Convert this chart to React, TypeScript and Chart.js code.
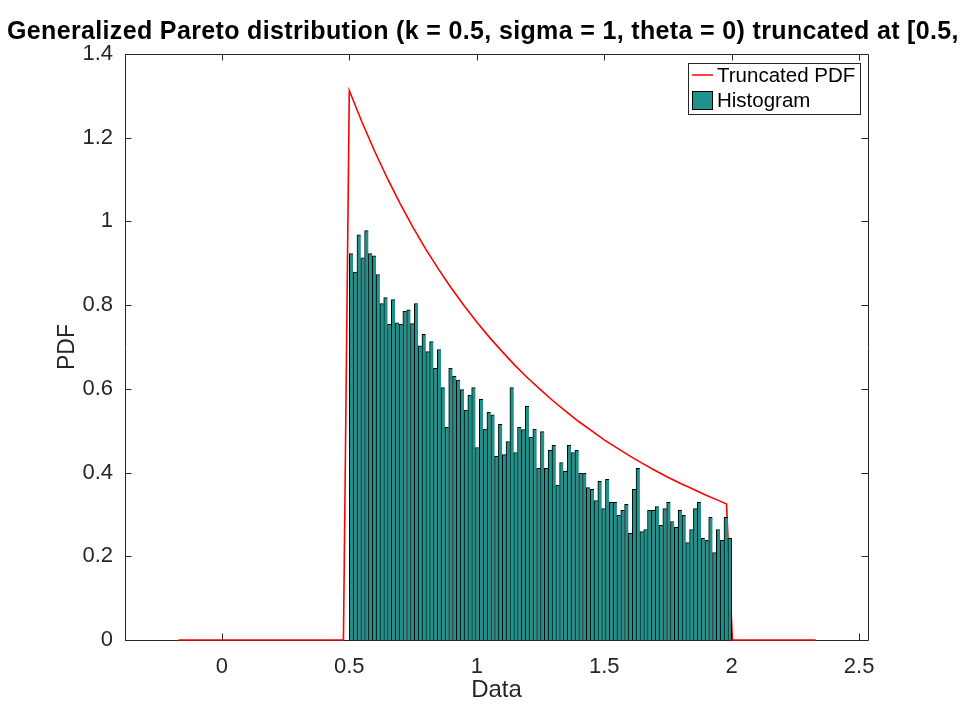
import React, { useEffect, useRef } from "react";
import { Chart, registerables } from "chart.js";

Chart.register(...registerables);

// ---- data ----
const chartTitle =
  "Generalized Pareto distribution (k = 0.5, sigma = 1, theta = 0) truncated at [0.5, 2]";
const xAxisLabel = "Data";
const yAxisLabel = "PDF";
const legendLabels = ["Truncated PDF", "Histogram"];

const xTicks = [0, 0.5, 1, 1.5, 2, 2.5];
const yTicks = [0, 0.2, 0.4, 0.6, 0.8, 1, 1.2, 1.4];

const binLow = 0.5;
const binHigh = 2.0;

// histogram density per bin (100 bins between 0.5 and 2)
const histDensity = [
  0.923, 0.879, 0.968, 0.913, 0.978, 0.923, 0.918, 0.873, 0.804, 0.818,
  0.754, 0.813, 0.758, 0.754, 0.785, 0.789, 0.756, 0.804, 0.703, 0.730,
  0.689, 0.713, 0.649, 0.694, 0.603, 0.508, 0.649, 0.630, 0.621, 0.598,
  0.549, 0.585, 0.603, 0.460, 0.575, 0.504, 0.544, 0.538, 0.439, 0.515,
  0.443, 0.474, 0.603, 0.448, 0.508, 0.503, 0.558, 0.484, 0.504, 0.410,
  0.498, 0.410, 0.453, 0.465, 0.370, 0.424, 0.403, 0.465, 0.448, 0.453,
  0.398, 0.398, 0.364, 0.360, 0.333, 0.379, 0.314, 0.384, 0.329, 0.329,
  0.298, 0.310, 0.324, 0.255, 0.360, 0.410, 0.259, 0.264, 0.310, 0.310,
  0.319, 0.274, 0.314, 0.329, 0.283, 0.269, 0.310, 0.298, 0.233, 0.264,
  0.314, 0.329, 0.243, 0.238, 0.293, 0.209, 0.264, 0.238, 0.293, 0.243,
];

// truncated PDF curve samples
const pdfX = [
  -0.17, 0.477, 0.5, 0.55, 0.6, 0.65, 0.7, 0.75, 0.8, 0.85, 0.9, 0.95, 1.0,
  1.05, 1.1, 1.15, 1.2, 1.25, 1.3, 1.35, 1.4, 1.45, 1.5, 1.55, 1.6, 1.65,
  1.7, 1.75, 1.8, 1.85, 1.9, 1.95, 1.98, 2.003, 2.33,
];
const pdfY = [
  0, 0, 1.313, 1.237, 1.167, 1.102, 1.042, 0.986, 0.934, 0.886, 0.841, 0.799,
  0.76, 0.723, 0.689, 0.656, 0.626, 0.598, 0.571, 0.546, 0.522, 0.5, 0.478,
  0.459, 0.44, 0.422, 0.405, 0.389, 0.374, 0.36, 0.346, 0.333, 0.325, 0, 0,
];

const xMin = -0.38;
const xMax = 2.535;
const yMin = 0;
const yMax = 1.4;

const barColor = "#21918c";
const lineColor = "#ff0000";
const axisColor = "#262626";
const fontFamily = "'Liberation Sans', Arial, Helvetica, sans-serif";

export default function App() {
  const canvasRef = useRef<HTMLCanvasElement | null>(null);

  useEffect(() => {
    document.body.style.margin = "0";
    const canvas = canvasRef.current;
    if (!canvas) return;

    const nBins = histDensity.length;
    const binWidth = (binHigh - binLow) / nBins;
    const barData = histDensity.map((v, i) => ({
      x: binLow + binWidth * (i + 0.5),
      y: v,
    }));
    const lineData = pdfX.map((x, i) => ({ x, y: pdfY[i] }));

    const framePlugin = {
      id: "frame",
      beforeDatasetsDraw(chart: any) {
        const { ctx, chartArea } = chart;
        const { left, right, top, bottom } = chartArea;
        const xs = chart.scales.x;
        const ys = chart.scales.y;
        const tl = 6.5;
        ctx.save();
        ctx.strokeStyle = axisColor;
        ctx.lineWidth = 1;
        ctx.beginPath();
        ctx.rect(Math.round(left) + 0.5, Math.round(top) + 0.5, Math.round(right - left), Math.round(bottom - top));
        ctx.stroke();
        ctx.beginPath();
        xTicks.forEach((v) => {
          const px = Math.round(xs.getPixelForValue(v)) + 0.5;
          ctx.moveTo(px, bottom);
          ctx.lineTo(px, bottom - tl);
          ctx.moveTo(px, top);
          ctx.lineTo(px, top + tl);
        });
        yTicks.forEach((v) => {
          const py = Math.round(ys.getPixelForValue(v)) + 0.5;
          ctx.moveTo(left, py);
          ctx.lineTo(left + tl, py);
          ctx.moveTo(right, py);
          ctx.lineTo(right - tl, py);
        });
        ctx.stroke();
        ctx.restore();
      },
      afterDraw(chart: any) {
        const { ctx, chartArea } = chart;
        ctx.save();
        // title
        ctx.fillStyle = "#000";
        ctx.font = `bold 25px ${fontFamily}`;
        (ctx as any).letterSpacing = "0.35px";
        ctx.textAlign = "left";
        ctx.textBaseline = "middle";
        ctx.fillText(chartTitle, chartArea.left - 118, 32);
        (ctx as any).letterSpacing = "0px";

        // legend
        const bx1 = chartArea.right - 8;
        const by0 = chartArea.top + 9;
        const bw = 172;
        const bh = 51;
        const bx0 = bx1 - bw;
        ctx.fillStyle = "#fff";
        ctx.fillRect(bx0, by0, bw, bh);
        ctx.strokeStyle = axisColor;
        ctx.lineWidth = 1;
        ctx.strokeRect(Math.round(bx0) + 0.5, Math.round(by0) + 0.5, bw, bh);
        // line sample
        ctx.strokeStyle = lineColor;
        ctx.lineWidth = 1.5;
        ctx.beginPath();
        ctx.moveTo(bx0 + 4, by0 + 12);
        ctx.lineTo(bx0 + 25, by0 + 12);
        ctx.stroke();
        // patch sample
        ctx.fillStyle = barColor;
        ctx.fillRect(bx0 + 4, by0 + 28, 21, 19);
        ctx.strokeStyle = "#000";
        ctx.lineWidth = 1;
        ctx.strokeRect(bx0 + 4.5, by0 + 28.5, 20, 18);
        ctx.fillStyle = "#000";
        ctx.font = `20.5px ${fontFamily}`;
        ctx.textAlign = "left";
        ctx.textBaseline = "middle";
        ctx.fillText(legendLabels[0], bx0 + 29, by0 + 13);
        ctx.fillText(legendLabels[1], bx0 + 29, by0 + 38);
        ctx.restore();
      },
    };

    const chart = new Chart(canvas, {
      type: "bar",
      data: {
        datasets: [
          {
            type: "line",
            label: legendLabels[0],
            data: lineData,
            borderColor: lineColor,
            borderWidth: 1.6,
            pointRadius: 0,
            tension: 0,
            fill: false,
            clip: false,
            order: 2,
          } as any,
          {
            type: "bar",
            label: legendLabels[1],
            data: barData,
            backgroundColor: barColor,
            borderColor: "#000",
            borderWidth: (c: any) =>
              c.dataIndex === histDensity.length - 1
                ? { left: 1, right: 1, top: 1, bottom: 0 }
                : { left: 1, right: 0, top: 1, bottom: 0 },
            borderSkipped: false,
            barPercentage: 1,
            categoryPercentage: 1,
            order: 1,
          } as any,
        ],
      },
      options: {
        responsive: false,
        animation: false,
        devicePixelRatio: 1,
        layout: { padding: { left: 48, right: 92, top: 54, bottom: 0 } },
        plugins: {
          legend: { display: false },
          title: { display: false },
          tooltip: { enabled: false },
        },
        scales: {
          x: {
            type: "linear",
            min: xMin,
            max: xMax,
            offset: false,
            grid: { display: false, drawTicks: false, offset: false },
            border: { display: false },
            afterBuildTicks: (s: any) => {
              s.ticks = xTicks.map((v) => ({ value: v }));
            },
            afterFit: (s: any) => {
              s.height = 80;
            },
            ticks: {
              autoSkip: false,
              maxRotation: 0,
              padding: 14,
              color: axisColor,
              font: { family: fontFamily, size: 22 },
              callback: (v: any) => String(v),
            },
            title: {
              display: true,
              text: xAxisLabel,
              color: axisColor,
              font: { family: fontFamily, size: 24 },
              padding: { top: 0, bottom: 15 },
            },
          },
          y: {
            type: "linear",
            min: yMin,
            max: yMax,
            grid: { display: false, drawTicks: false },
            border: { display: false },
            afterBuildTicks: (s: any) => {
              s.ticks = yTicks.map((v) => ({ value: v }));
            },
            afterFit: (s: any) => {
              s.width = 77;
            },
            ticks: {
              autoSkip: false,
              padding: 12,
              color: axisColor,
              font: { family: fontFamily, size: 22 },
              callback: (v: any) => String(v),
            },
            title: {
              display: true,
              text: yAxisLabel,
              color: axisColor,
              font: { family: fontFamily, size: 23 },
              padding: { top: 6, bottom: 0 },
            },
          },
        },
      } as any,
      plugins: [framePlugin],
    });

    return () => chart.destroy();
  }, []);

  return (
    <div style={{ width: 960, height: 720, background: "#fff" }}>
      <canvas ref={canvasRef} width={960} height={720} style={{ display: "block" }} />
    </div>
  );
}
